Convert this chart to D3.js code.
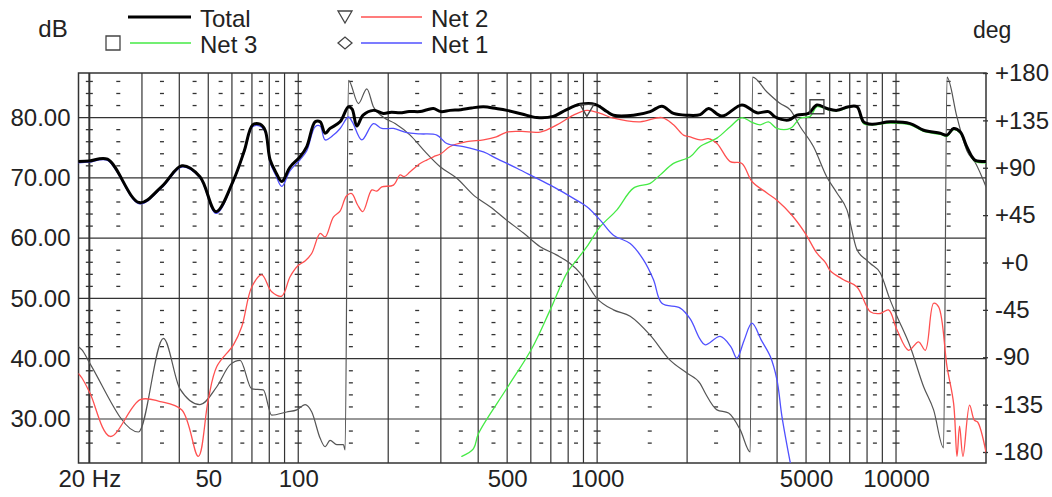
<!DOCTYPE html>
<html>
<head>
<meta charset="utf-8">
<script src="https://cdn.jsdelivr.net/npm/d3@7"></script>
<style>
  body { margin: 0; background: #fff; }
  svg { display: block; }
  text { font-family: "Liberation Sans", Arial, sans-serif; fill: #222; }
</style>
</head>
<body>
<svg width="1052" height="497"></svg>
<script>
// frequency response data, [Hz, dB]
var total = [[18.4,72.7],[20,72.8],[23,73.1],[29.4,65.9],[35,68.6],[40.8,72.0],[46.9,70.2],[53.1,64.4],[60.7,69.6],[66,74.5],[70.4,78.8],[74.5,78.9],[77.5,77.9],[80.5,73.0],[84,71.0],[88.1,69.4],[93.9,71.8],[101.4,73.5],[106.8,75.2],[113.9,79.3],[118.4,79.3],[123,77.4],[127.8,78.2],[138,79.3],[147.2,81.8],[151.5,81.4],[157,78.6],[164.8,80.4],[178.4,81.2],[192.8,80.7],[205,80.9],[219,80.8],[235,81.0],[255.7,81.0],[270,81.3],[283.4,81.5],[300,81.0],[322,81.2],[350,81.3],[380,81.6],[416.7,81.8],[460,81.5],[498.9,81.2],[560,80.6],[628.6,80.0],[712.8,80.2],[787.7,81.3],[877.5,82.2],[985,82.2],[1078,81.0],[1134,80.4],[1323,80.4],[1505,81.0],[1647,81.9],[1801,80.7],[2000,80.4],[2212,80.5],[2358,81.5],[2615,80.25],[3051,82.1],[3424,80.8],[3745,81.0],[3944,80.1],[4370,79.6],[4661,80.4],[5098,80.7],[5437,82.1],[5874,81.5],[6343,81.2],[6938,81.8],[7403,81.8],[7789,79.3],[8309,78.9],[9568,79.3],[11160,79.0],[12370,77.9],[14050,77.4],[14810,77.1],[15583,78.2],[16408,77.6],[17200,75.3],[17960,73.5],[18420,72.9],[20000,72.7]];

var net2 = [[18.4,37.5],[18.9,36.8],[20.1,34.3],[23.5,27.1],[29.6,33.2],[34.5,32.9],[40.8,31.5],[46.3,23.8],[50,33.2],[53.4,38.7],[60.7,42.3],[64.7,45.3],[69.9,51.9],[75.5,53.9],[81.5,51.1],[88.1,50.4],[93.9,53.6],[100.1,55.5],[105.4,56.2],[111,57.5],[118.4,60.8],[123,60.2],[131.1,63.5],[138,64.5],[145,67.0],[151,67.4],[158,65.5],[164.4,64.4],[176.3,68.0],[183,67.8],[190.4,68.5],[208.2,68.8],[219.2,70.5],[226,70.2],[236.8,71.0],[255.7,72.4],[270,73.0],[283.4,73.5],[300,74.0],[322.3,75.2],[366.6,76.0],[416.6,76.3],[460,76.8],[498.9,77.6],[560,77.7],[644.8,77.6],[733.4,78.8],[833.4,80.4],[924.2,81.2],[1024,80.7],[1134,79.9],[1393,79.3],[1647,80.0],[1801,78.8],[1945,77.1],[2048,76.8],[2212,76.3],[2358,76.5],[2517,75.7],[2788,72.7],[3051,72.4],[3296,69.4],[3700,67.5],[3996,66.3],[4484,63.8],[4970,60.8],[5437,57.5],[5800,56.0],[6025,54.6],[6673,53.1],[7403,51.9],[8201,47.8],[8857,47.5],[9442,48.1],[10072,44.8],[11015,41.4],[11895,42.8],[12529,41.4],[13357,49.2],[13884,48.6],[14810,38.7],[15583,32.6],[15996,23.8],[16318,28.8],[16749,23.8],[17626,32.3],[18276,29.8],[18747,29.5],[20000,24.5]];

var net3 = [[352.7,23.8],[385.8,25.1],[400.9,27.6],[498.9,35.1],[604.8,41.7],[696.5,48.1],[792,54.2],[855.4,56.4],[924.2,58.6],[1024,61.9],[1165,64.7],[1323,68.3],[1505,69.1],[1626,70.5],[1801,72.4],[2048,73.5],[2212,75.2],[2517,76.6],[2788,78.5],[3051,80.0],[3300,79.2],[3513,78.8],[3745,79.3],[3996,78.2],[4426,78.2],[4780,79.9],[5164,80.2],[5437,81.8],[6025,81.2],[6506,81.2],[7030,81.8],[7403,81.8],[7789,79.0],[8309,78.8],[9568,79.1],[11160,78.8],[12370,77.7],[14050,77.2],[14810,76.9],[15583,78.0],[16408,77.4],[17200,75.1],[17960,73.3],[18420,72.7],[20000,72.5]];

var net1 = [[18.4,72.5],[20,72.6],[23,72.9],[29.4,65.7],[35,68.4],[40.8,71.8],[46.9,70.0],[53.1,64.1],[60.7,69.4],[66,74.3],[70.4,78.5],[74.5,78.6],[77.5,77.6],[80.5,72.6],[84,70.5],[88.1,68.6],[93.9,71.2],[101.4,73.0],[106.8,74.5],[113.9,78.5],[118.4,78.6],[123,76.3],[131.1,77.1],[138.1,78.2],[147.2,80.1],[152,79.2],[163.2,76.3],[178.4,79.0],[190.4,78.2],[208.2,78.2],[230.8,77.5],[255.7,77.3],[290.9,77.1],[314.2,75.7],[357.1,75.2],[416.6,74.3],[461.9,73.2],[538.7,71.6],[612.3,70.2],[714.4,68.5],[833.4,66.6],[924.2,65.2],[1024,63.0],[1134,60.5],[1290,59.1],[1429,56.4],[1544,53.1],[1647,49.2],[1897,48.4],[2048,46.6],[2212,43.2],[2299,42.3],[2581,43.7],[2800,42.0],[2936,40.1],[3100,43.0],[3296,45.9],[3550,43.0],[3794,40.4],[3996,36.5],[4153,30.4],[4426,22.8]];

// phase of total, [Hz, deg]
var phase = [[18.4,-80],[18.9,-83],[20.1,-96],[29.2,-161],[35.4,-72],[40.2,-120],[46.9,-135],[53.4,-118],[59.2,-97],[63.9,-93],[69.9,-120],[76.4,-121],[81.5,-145],[91.5,-142],[98.9,-140],[105.4,-135],[111,-142],[118.4,-167],[123,-175],[127.8,-169],[134.6,-173],[141.6,-173],[143.5,-178],[147.2,173],[159,151],[169.6,165],[178.4,148],[192.8,138],[210.9,132],[236.8,121],[262.3,107],[298.4,91],[339.4,80],[385.8,64],[438.5,53],[498.9,40],[567,28],[644.8,15],[733.4,7],[812.4,-1],[877.5,-10],[997.9,-34],[1134,-45],[1290,-51],[1505,-69],[1756,-93],[1997,-105],[2212,-115],[2299,-124],[2517,-140],[2752,-143],[3012,-159],[3253,-180],[3311,176],[3700,162],[4099,151],[4426,145],[4780,129],[5297,110],[5874,81],[6343,66],[6852,50],[7403,12],[7993,2],[8201,-1],[8857,-10],[9568,-36],[10072,-51],[11160,-80],[12370,-118],[13357,-140],[14424,-176],[14810,176],[15996,138],[17276,106],[18400,95],[20000,72]];

// markers sitting on the curves
var markNet2 = [924.2, 81.2];
var markNet3 = [5437, 81.8];

// ticks and grid
var gridF = [20,30,40,50,60,70,80,90,100,200,300,400,500,600,700,800,900,1000,2000,3000,4000,5000,6000,7000,8000,9000,10000];
var dashF = [25,35,45,55,65,75,85,150,250,350,450,550,650,750,850,1500,2500,3500,4500,5500,6500,7500,8500,15000];
var crossF = [20,100,1000,10000];
var dashDb = [26,28,32,34,36,38,42,44,46,48,52,54,56,58,62,64,66,68,72,74,76,78,82,84,86];
var dbTicks = [30,40,50,60,70,80];
var degTicks = [180,135,90,45,0,-45,-90,-135,-180];
var fTicks = [20,50,100,500,1000,5000,10000];

var draw = function() {

	var svg = d3.select("svg");

	var pl = 78.5, pr = 986, pt = 73, pb = 463;

	var x = d3.scaleLog().domain([18.4, 20000]).range([pl, pr]);
	var yDb = d3.scaleLinear().domain([22.7, 87.4]).range([pb, pt]);
	var yDeg = d3.scaleLinear().domain([-180, 180]).range([452, 73]);

	svg.append("clipPath").attr("id", "plot")
		.append("rect")
		.attr("x", pl).attr("y", pt)
		.attr("width", pr - pl).attr("height", pb - pt);

	// grid
	var grid = svg.append("g").attr("stroke", "#333");

	grid.selectAll(".v").data(gridF).enter().append("line")
		.attr("x1", function(d) { return x(d); })
		.attr("x2", function(d) { return x(d); })
		.attr("y1", pt).attr("y2", pb)
		.attr("stroke-width", function(d) { return d == 20 ? 2 : 1.2; });

	grid.selectAll(".h").data(dbTicks).enter().append("line")
		.attr("x1", pl).attr("x2", pr)
		.attr("y1", function(d) { return yDb(d); })
		.attr("y2", function(d) { return yDb(d); })
		.attr("stroke-width", 1.2);

	// little dash marks
	var marks = [];
	dashF.forEach(function(f) { dashDb.forEach(function(v) { marks.push([f, v, 2]); }); });
	crossF.forEach(function(f) { dashDb.forEach(function(v) { marks.push([f, v, 3.5]); }); });

	grid.selectAll(".m").data(marks).enter().append("line")
		.attr("x1", function(d) { return x(d[0]) - d[2]; })
		.attr("x2", function(d) { return x(d[0]) + d[2]; })
		.attr("y1", function(d) { return yDb(d[1]); })
		.attr("y2", function(d) { return yDb(d[1]); })
		.attr("stroke-width", 1.3);

	// frame
	svg.append("rect")
		.attr("x", pl).attr("y", pt)
		.attr("width", pr - pl).attr("height", pb - pt)
		.attr("fill", "none").attr("stroke", "#333").attr("stroke-width", 1.5);

	// axes
	var axL = svg.append("g")
		.attr("transform", "translate(" + pl + ",0)")
		.call(d3.axisLeft(yDb).tickValues(dbTicks).tickSize(0).tickPadding(8).tickFormat(d3.format(".2f")));

	var axB = svg.append("g")
		.attr("transform", "translate(0," + pb + ")")
		.call(d3.axisBottom(x).tickValues(fTicks).tickSize(0).tickPadding(7)
			.tickFormat(function(d) { return d == 20 ? "20 Hz" : d; }));

	var axR = svg.append("g")
		.attr("transform", "translate(983,0)")
		.call(d3.axisRight(yDeg).tickValues(degTicks).tickSize(5).tickPadding(7)
			.tickFormat(function(d) { return (d >= 0 ? "+" : "") + d; }));

	[axL, axB, axR].forEach(function(a) {
		a.select(".domain").remove();
		a.selectAll("text").attr("font-size", 24).attr("fill", "#222")
			.attr("font-family", "'Liberation Sans', Arial, sans-serif");
	});
	axR.selectAll(".tick line").attr("stroke", "#333").attr("stroke-width", 1.3);
	axR.selectAll(".tick text").filter(function(d) { return d == 0; }).attr("x", 18);

	svg.append("text").attr("x", 53).attr("y", 37).attr("text-anchor", "middle")
		.attr("font-size", 24).text("dB");
	svg.append("text").attr("x", 973).attr("y", 38)
		.attr("font-size", 23).text("deg");

	// curves
	var lineDb = d3.line()
		.x(function(d) { return x(d[0]); })
		.y(function(d) { return yDb(d[1]); })
		.curve(d3.curveCatmullRom.alpha(0.5));

	// phase wraps at +-180, so no overshoot here
	var lineDeg = d3.line()
		.x(function(d) { return x(d[0]); })
		.y(function(d) { return yDeg(d[1]); })
		.curve(d3.curveMonotoneX);

	var curves = svg.append("g").attr("clip-path", "url(#plot)").attr("fill", "none")
		.attr("stroke-linejoin", "round").attr("stroke-linecap", "round");

	curves.append("path").datum(phase).attr("d", lineDeg)
		.attr("stroke", "#555").attr("stroke-width", 1.2);
	curves.append("path").datum(net2).attr("d", lineDb)
		.attr("stroke", "#ff5050").attr("stroke-width", 1.3);
	curves.append("path").datum(net3).attr("d", lineDb)
		.attr("stroke", "#45ea45").attr("stroke-width", 1.3);
	curves.append("path").datum(net1).attr("d", lineDb)
		.attr("stroke", "#5050ff").attr("stroke-width", 1.3);
	curves.append("path").datum(total).attr("d", lineDb)
		.attr("stroke", "#000").attr("stroke-width", 3);

	// marker shapes
	function tri(cx, cy) {
		return "M" + (cx - 7) + "," + (cy - 6) + "L" + (cx + 7) + "," + (cy - 6) + "L" + cx + "," + (cy + 6) + "Z";
	}
	function sq(cx, cy) {
		return "M" + (cx - 7) + "," + (cy - 7) + "h14v14h-14Z";
	}
	function dia(cx, cy) {
		return "M" + (cx - 7) + "," + cy + "L" + cx + "," + (cy - 6) + "L" + (cx + 7) + "," + cy + "L" + cx + "," + (cy + 6) + "Z";
	}

	var mk = svg.append("g").attr("fill", "none").attr("stroke", "#444").attr("stroke-width", 1.3);
	mk.append("path").attr("d", tri(x(markNet2[0]), yDb(markNet2[1])));
	mk.append("path").attr("d", sq(x(markNet3[0]), yDb(markNet3[1])));

	// legend
	var legend = [
		{name: "Total", color: "#000", w: 3, x: 128, y: 17, mark: null},
		{name: "Net 3", color: "#45ea45", w: 1.5, x: 130, y: 43, mark: sq},
		{name: "Net 2", color: "#ff5050", w: 1.5, x: 361, y: 17, mark: tri},
		{name: "Net 1", color: "#5050ff", w: 1.5, x: 361, y: 43, mark: dia}
	];

	legend.forEach(function(l) {
		svg.append("line").attr("x1", l.x).attr("x2", l.x < 200 ? 191 : 422)
			.attr("y1", l.y).attr("y2", l.y)
			.attr("stroke", l.color).attr("stroke-width", l.w);
		svg.append("text").attr("x", l.x < 200 ? 200 : 431).attr("y", l.y + 10)
			.attr("font-size", 24).text(l.name);
		if (l.mark) {
			mk.append("path").attr("d", l.mark(l.x < 200 ? 113 : 345, l.y));
		}
	});
};

draw();
</script>
</body>
</html>
